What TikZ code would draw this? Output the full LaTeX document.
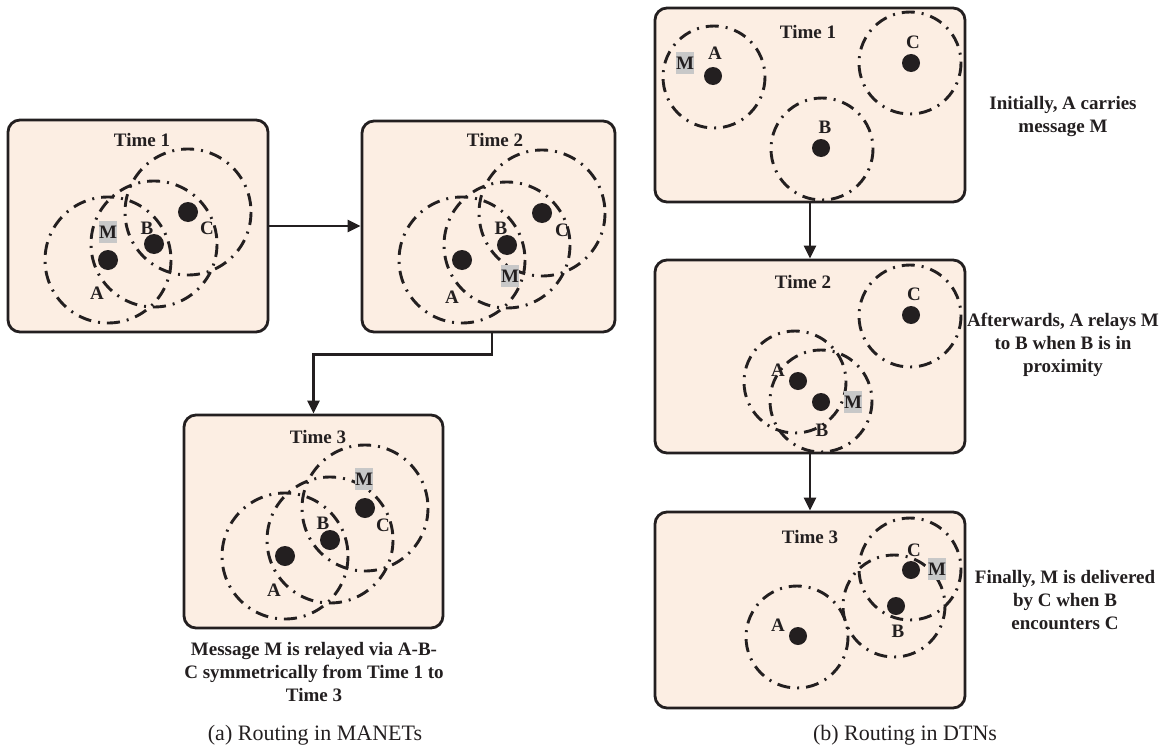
\documentclass[tikz,border=0pt]{standalone}
\usepackage{fontspec}
\setmainfont{Liberation Serif}
\usetikzlibrary{arrows.meta}
\definecolor{ink}{RGB}{35,31,32}
\definecolor{sand}{RGB}{252,238,227}
\definecolor{tagfill}{RGB}{200,200,200}
\tikzset{
  panel/.style={draw=ink, line width=2.8pt, fill=sand, rounded corners=12pt, inner sep=0pt},
  reach/.style={draw=ink, line width=2.9pt, dash pattern=on 13pt off 7pt on 2pt off 7pt},
  bigdot/.style={circle, fill=ink, inner sep=0pt, minimum size=20pt},
  smalldot/.style={circle, fill=ink, inner sep=0pt, minimum size=18pt},
  lbl/.style={font=\fontsize{19}{23}\selectfont\bfseries, text=ink, inner sep=0pt},
  msg/.style={lbl, fill=tagfill, minimum width=18pt, minimum height=22pt},
  note/.style={lbl, align=center},
  caption/.style={font=\fontsize{22}{26}\selectfont, text=ink, inner sep=0pt},
  arr/.style={draw=ink, line width=2.6pt, -{Triangle[length=13pt,width=12pt]}},
}
\begin{document}
\begin{tikzpicture}[x=1pt, y=-1pt]
\useasboundingbox (0,0) rectangle (1161,752);

% ---------- MANET panels ----------
\node[panel, minimum width=260pt, minimum height=212pt] (m1) at (138,226) {};
\node[panel, minimum width=253pt, minimum height=211pt] (m2) at (488.5,226.5) {};
\node[panel, minimum width=259pt, minimum height=213pt] (m3) at (313.5,521.5) {};

\node[lbl] (m1t) at (142,140) {Time 1};
\node[lbl] (m2t) at (495,140) {Time 2};
\node[lbl] (m3t) at (318,437) {Time 3};

% radio ranges
\foreach \x/\y in {108/260, 154/244, 188/212, 462/260, 507/245, 542/213, 285/556, 330/540, 365/508}
  \draw[reach] (\x,\y) circle (63);

% Time 1
\node[bigdot] (m1a) at (108,260) {};
\node[bigdot] (m1b) at (154,244) {};
\node[bigdot] (m1c) at (188,212) {};
\node[msg] (m1m) at (108,232) {M};
\node[lbl] (m1bl) at (147,228) {B};
\node[lbl] (m1cl) at (207,228) {C};
\node[lbl] (m1al) at (97,293) {A};

% Time 2
\node[bigdot] (m2a) at (462,260) {};
\node[bigdot] (m2b) at (507,245) {};
\node[bigdot] (m2c) at (542,213) {};
\node[msg] (m2m) at (510,276) {M};
\node[lbl] (m2bl) at (501,228) {B};
\node[lbl] (m2cl) at (562,230) {C};
\node[lbl] (m2al) at (452,297) {A};

% Time 3
\node[bigdot] (m3a) at (285,556) {};
\node[bigdot] (m3b) at (330,540) {};
\node[bigdot] (m3c) at (365,508) {};
\node[msg] (m3m) at (364,479) {M};
\node[lbl] (m3bl) at (323,523) {B};
\node[lbl] (m3cl) at (383,525) {C};
\node[lbl] (m3al) at (274,590) {A};

\draw[arr] (m1.east) -- (m1.east -| m2.west);
\draw[arr] ([xshift=3.5pt]m2.south) -- ++(0,21) -| (m3.north);

\node[note] (mtext) at (314,672) {Message M is relayed via A-B-\\C symmetrically from Time 1 to\\Time 3};

% ---------- DTN panels ----------
\node[panel, minimum width=310pt, minimum height=194pt] (d1) at (810,105) {};
\node[panel, minimum width=310pt, minimum height=193pt] (d2) at (810,356.5) {};
\node[panel, minimum width=310pt, minimum height=196pt] (d3) at (810,610) {};

\node[lbl] (d1t) at (808,32) {Time 1};
\node[lbl] (d2t) at (803,282) {Time 2};
\node[lbl] (d3t) at (810,537) {Time 3};

\foreach \x/\y in {714/77, 822/149, 910/63, 910/316, 795/382, 821/401, 797/637, 894/606, 910/569}
  \draw[reach] (\x,\y) circle (51);

% Time 1
\node[smalldot] (d1a) at (713,76) {};
\node[smalldot] (d1b) at (821,148) {};
\node[smalldot] (d1c) at (911,63) {};
\node[lbl] (d1al) at (715,53) {A};
\node[msg] (d1m) at (685,63) {M};
\node[lbl] (d1bl) at (825,127) {B};
\node[lbl] (d1cl) at (913,42) {C};

% Time 2
\node[smalldot] (d2c) at (911,315) {};
\node[smalldot] (d2a) at (798,381) {};
\node[smalldot] (d2b) at (821,402) {};
\node[lbl] (d2al) at (778,370) {A};
\node[lbl] (d2bl) at (822,430) {B};
\node[msg] (d2m) at (853,402) {M};
\node[lbl] (d2cl) at (914,294) {C};

% Time 3
\node[smalldot] (d3c) at (911,570) {};
\node[smalldot] (d3b) at (896,606) {};
\node[smalldot] (d3a) at (798,636) {};
\node[lbl] (d3cl) at (914,550) {C};
\node[msg] (d3m) at (937,569) {M};
\node[lbl] (d3bl) at (898,631) {B};
\node[lbl] (d3al) at (778,625) {A};

\draw[arr] (d1.south) -- (d2.north);
\draw[arr] (d2.south) -- (d3.north);

\node[note] (dn1) at (1063,117) {Initially, A carries\\message M};
\node[note] (dn2) at (1063,345) {Afterwards, A relays M\\to B when B is in\\proximity};
\node[note] (dn3) at (1065,600) {Finally, M is delivered\\by C when B\\encounters C};

% ---------- captions ----------
\node[caption] (capa) at (315,735) {(a) Routing in MANETs};
\node[caption] (capb) at (905,735) {(b) Routing in DTNs};
\end{tikzpicture}
\end{document}
